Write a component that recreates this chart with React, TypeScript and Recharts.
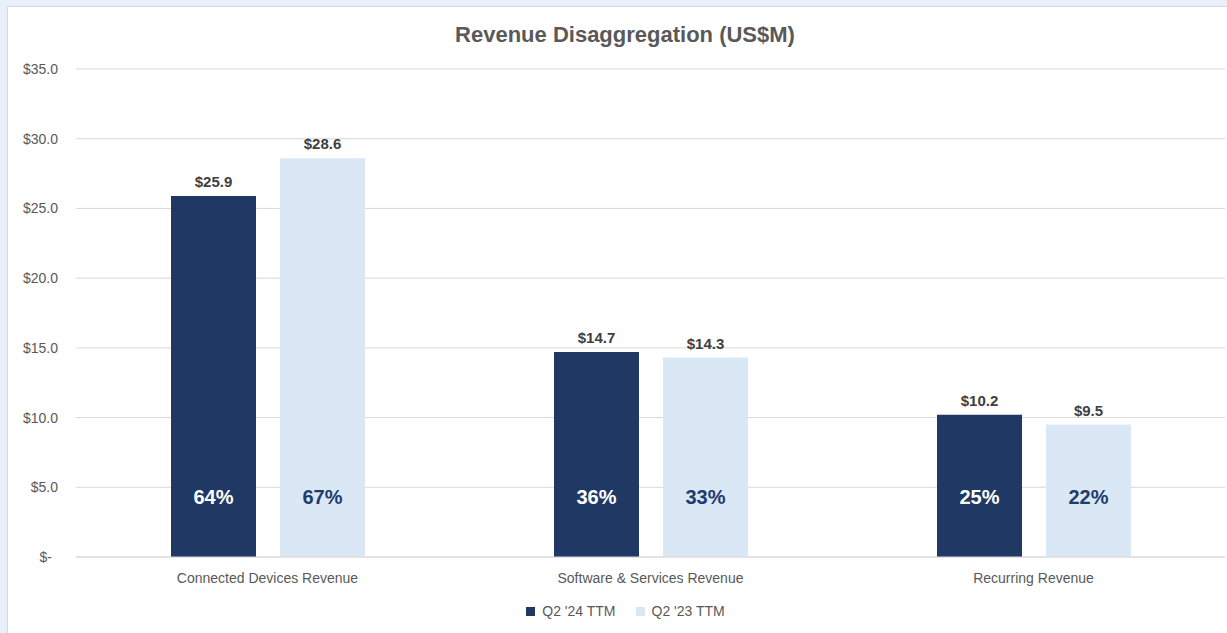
import React from "react";
import { BarChart, Bar, XAxis, YAxis, CartesianGrid, Legend, LabelList } from "recharts";

const categories = ["Connected Devices Revenue", "Software & Services Revenue", "Recurring Revenue"];
const seriesNames = ["Q2 '24 TTM", "Q2 '23 TTM"];
const q2_24 = [25.9, 14.7, 10.2];
const q2_23 = [28.6, 14.3, 9.5];
const share24 = [64, 36, 25];
const share23 = [67, 33, 22];
const yTicks = [0, 5, 10, 15, 20, 25, 30, 35];

const DARK = "#203864";
const LIGHT = "#dae7f5";
const FONT = "'Liberation Sans', Arial, sans-serif";

const data = categories.map((name, i) => ({
  name,
  cur: q2_24[i],
  prev: q2_23[i],
  curPct: share24[i],
  prevPct: share23[i],
}));

const YTick = (props: any) => {
  const { x, y, payload } = props;
  const v = payload.value;
  const txt = v === 0 ? "$-" : `$${v.toFixed(1)}`;
  return (
    <text x={x} y={y} dx={v === 0 ? -6 : 0} dy={5} textAnchor="end" fontSize={14} fill="#595959" fontFamily={FONT}>
      {txt}
    </text>
  );
};

const XTick = (props: any) => {
  const { x, y, payload } = props;
  return (
    <text x={x} y={y} dy={18} textAnchor="middle" fontSize={14} fill="#595959" fontFamily={FONT}>
      {payload.value}
    </text>
  );
};

const pctLabel = (color: string) => (props: any) => {
  const { x, y, width, height, value } = props;
  return (
    <text
      x={x + width / 2}
      y={y + height - 60}
      dy={7}
      textAnchor="middle"
      fontSize={20}
      fontWeight="bold"
      fill={color}
      fontFamily={FONT}
    >
      {value}%
    </text>
  );
};

const LegendBox = () => (
  <div
    style={{
      height: 20,
      display: "flex",
      justifyContent: "center",
      alignItems: "center",
      paddingLeft: 18,
      fontFamily: FONT,
      fontSize: 14,
      color: "#595959",
    }}
  >
    {seriesNames.map((s, i) => (
      <div key={s} style={{ display: "flex", alignItems: "center", marginLeft: i ? 20 : 0 }}>
        <span style={{ width: 9, height: 9, background: i ? LIGHT : DARK, marginRight: 7, display: "inline-block" }} />
        <span>{s}</span>
      </div>
    ))}
  </div>
);

const valueStyle = { fontSize: 15, fontWeight: "bold", fill: "#404040", fontFamily: FONT };

export default function App() {
  return (
    <div style={{ position: "absolute", left: 0, top: 0, width: 1227, height: 633, background: "#e9eff8", overflow: "hidden" }}>
      <div
        style={{
          position: "absolute",
          left: 7,
          top: 6,
          width: 1240,
          height: 640,
          background: "#fff",
          border: "1px solid #d4d8de",
        }}
      >
        <div
          style={{
            position: "absolute",
            left: 0,
            top: 15,
            width: 1234,
            textAlign: "center",
            fontFamily: FONT,
            fontWeight: "bold",
            fontSize: 22,
            color: "#595959",
          }}
        >
          Revenue Disaggregation (US$M)
        </div>
        <BarChart
          width={1219}
          height={626}
          data={data}
          margin={{ top: 62, right: 2, bottom: 12, left: 0 }}
          barSize={85}
          barGap={24}
        >
          <CartesianGrid vertical={false} stroke="#d9d9d9" />
          <XAxis dataKey="name" height={44} tick={<XTick />} tickLine={false} axisLine={{ stroke: "#d9d9d9" }} />
          <YAxis
            width={68}
            domain={[0, 35]}
            ticks={yTicks}
            tick={<YTick />}
            tickLine={false}
            axisLine={false}
            tickSize={0}
            tickMargin={18}
          />
          <Legend verticalAlign="bottom" content={<LegendBox />} />
          <Bar dataKey="cur" name={seriesNames[0]} fill={DARK} isAnimationActive={false}>
            <LabelList
              dataKey="cur"
              position="top"
              offset={9}
              formatter={(v: any) => `$${Number(v).toFixed(1)}`}
              style={valueStyle}
            />
            <LabelList dataKey="curPct" content={pctLabel("#ffffff")} />
          </Bar>
          <Bar dataKey="prev" name={seriesNames[1]} fill={LIGHT} isAnimationActive={false}>
            <LabelList
              dataKey="prev"
              position="top"
              offset={9}
              formatter={(v: any) => `$${Number(v).toFixed(1)}`}
              style={valueStyle}
            />
            <LabelList dataKey="prevPct" content={pctLabel("#1f3c6e")} />
          </Bar>
        </BarChart>
      </div>
    </div>
  );
}
